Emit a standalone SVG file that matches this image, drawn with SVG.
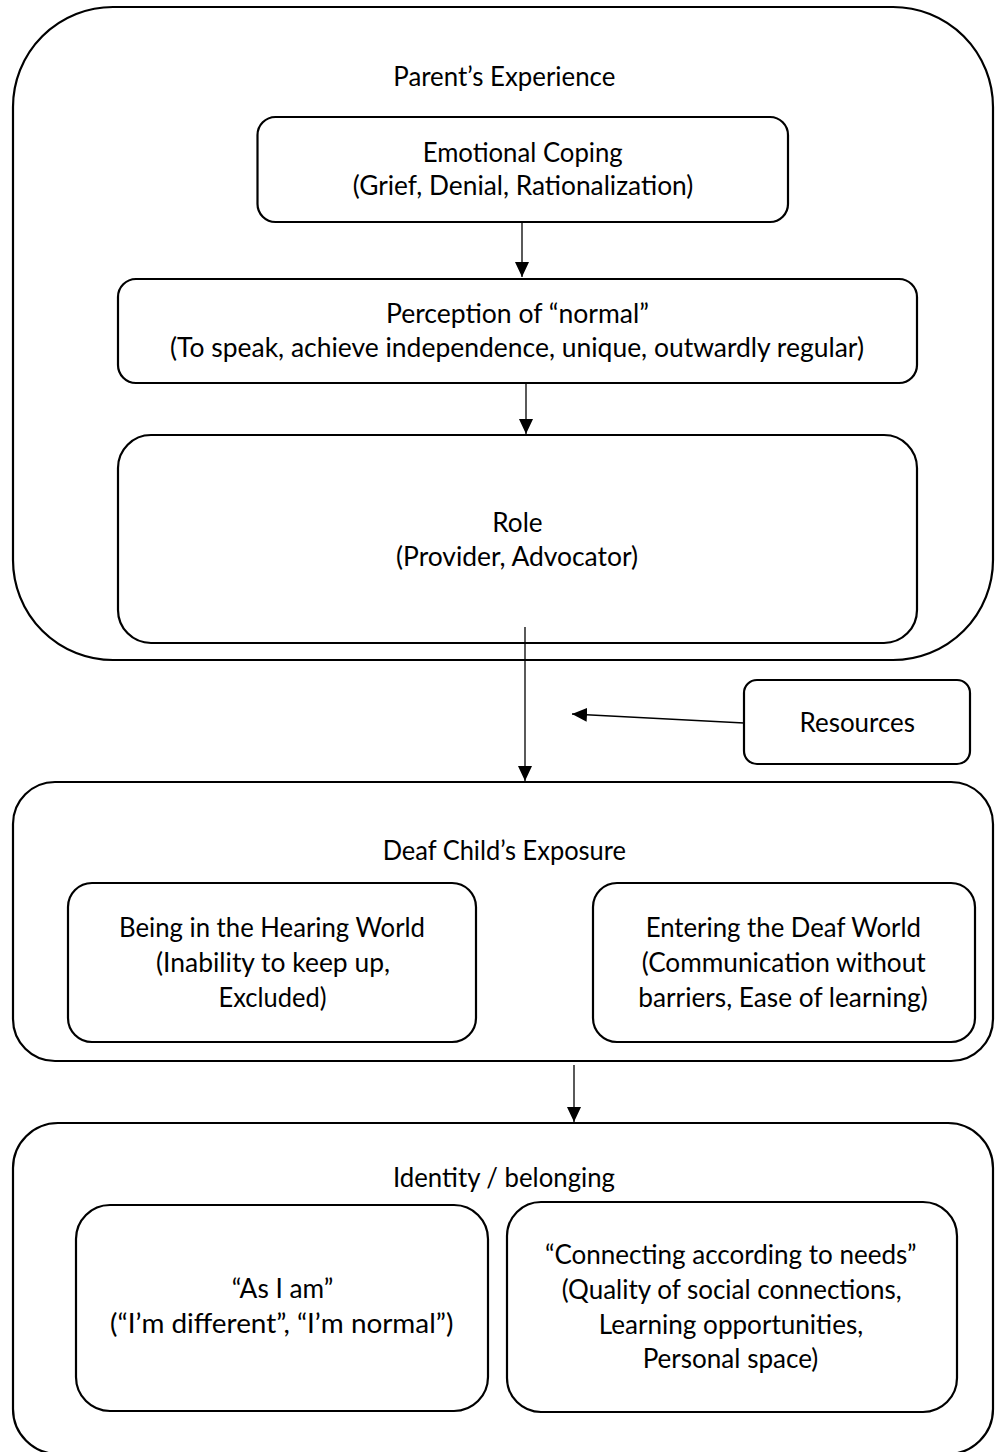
<svg xmlns="http://www.w3.org/2000/svg" width="995" height="1452" viewBox="0 0 995 1452">
<style>
.box{fill:#ffffff;stroke:#000000;stroke-width:2.2}
.t{font-family:Lato,"Liberation Sans",sans-serif;font-size:26px;fill:#000000;text-anchor:middle}
.c{stroke:#000000;stroke-width:1.3;fill:none}
</style>
<defs>
<marker id="ah" markerUnits="userSpaceOnUse" markerWidth="16" markerHeight="14" refX="15" refY="7" orient="auto">
<path d="M0,0 L15,7 L0,14 z" fill="#000000"/>
</marker>
</defs>
<rect width="995" height="1452" fill="#ffffff"/>

<g id="parent-experience">
<rect class="box" x="13" y="7" width="980" height="653" rx="100" ry="100"/>
<text class="t" x="504.3" y="86" textLength="222" lengthAdjust="spacingAndGlyphs">Parent’s Experience</text>
</g>

<g id="emotional-coping">
<rect class="box" x="257.5" y="117" width="530.5" height="105" rx="18" ry="18"/>
<text class="t" x="522.7" y="162" textLength="200" lengthAdjust="spacingAndGlyphs">Emotional Coping</text>
<text class="t" x="523" y="195" textLength="340.6" lengthAdjust="spacingAndGlyphs">(Grief, Denial, Rationalization)</text>
</g>

<g id="perception-normal">
<rect class="box" x="118" y="279" width="799" height="104" rx="18" ry="18"/>
<text class="t" x="517.5" y="323" textLength="263" lengthAdjust="spacingAndGlyphs">Perception of “normal”</text>
<text class="t" x="517" y="357" textLength="694" lengthAdjust="spacingAndGlyphs">(To speak, achieve independence, unique, outwardly regular)</text>
</g>

<g id="role">
<rect class="box" x="118" y="435" width="799" height="208" rx="33" ry="33"/>
<text class="t" x="517.5" y="532" textLength="50.3" lengthAdjust="spacingAndGlyphs">Role</text>
<text class="t" x="517" y="566" textLength="242" lengthAdjust="spacingAndGlyphs">(Provider, Advocator)</text>
</g>

<g id="resources">
<rect class="box" x="744" y="680" width="226" height="84" rx="13" ry="13"/>
<text class="t" x="857.3" y="732" textLength="115.5" lengthAdjust="spacingAndGlyphs">Resources</text>
</g>

<g id="deaf-child-exposure">
<rect class="box" x="13" y="782" width="980" height="279" rx="42" ry="42"/>
<text class="t" x="504.3" y="860" textLength="243.3" lengthAdjust="spacingAndGlyphs">Deaf Child’s Exposure</text>
</g>

<g id="hearing-world">
<rect class="box" x="68" y="883" width="408" height="159" rx="24" ry="24"/>
<text class="t" x="272" y="937" textLength="306" lengthAdjust="spacingAndGlyphs">Being in the Hearing World</text>
<text class="t" x="273" y="972" textLength="234" lengthAdjust="spacingAndGlyphs">(Inability to keep up,</text>
<text class="t" x="272.5" y="1007" textLength="108" lengthAdjust="spacingAndGlyphs">Excluded)</text>
</g>

<g id="deaf-world">
<rect class="box" x="593" y="883" width="382" height="159" rx="24" ry="24"/>
<text class="t" x="783.3" y="937" textLength="275.3" lengthAdjust="spacingAndGlyphs">Entering the Deaf World</text>
<text class="t" x="783.7" y="972" textLength="284" lengthAdjust="spacingAndGlyphs">(Communication without</text>
<text class="t" x="783" y="1007" textLength="289.4" lengthAdjust="spacingAndGlyphs">barriers, Ease of learning)</text>
</g>

<g id="identity-belonging">
<rect class="box" x="13" y="1123" width="980" height="331" rx="45" ry="45"/>
<text class="t" x="504" y="1187" textLength="222" lengthAdjust="spacingAndGlyphs">Identity / belonging</text>
</g>

<g id="as-i-am">
<rect class="box" x="76" y="1205" width="412" height="206" rx="34" ry="34"/>
<text class="t" x="282.5" y="1298" textLength="101.7" lengthAdjust="spacingAndGlyphs">“As I am”</text>
<text class="t" x="281.7" y="1333" textLength="343.3" lengthAdjust="spacingAndGlyphs">(“I’m different”, “I’m normal”)</text>
</g>

<g id="connecting-needs">
<rect class="box" x="507" y="1202" width="450" height="210" rx="34" ry="34"/>
<text class="t" x="730.8" y="1264" textLength="371.7" lengthAdjust="spacingAndGlyphs">“Connecting according to needs”</text>
<text class="t" x="731.7" y="1299" textLength="340" lengthAdjust="spacingAndGlyphs">(Quality of social connections,</text>
<text class="t" x="731" y="1334" textLength="264.3" lengthAdjust="spacingAndGlyphs">Learning opportunities,</text>
<text class="t" x="730.5" y="1368" textLength="175.7" lengthAdjust="spacingAndGlyphs">Personal space)</text>
</g>

<g id="connectors">
<line class="c" x1="522" y1="223" x2="522" y2="277" marker-end="url(#ah)"/>
<line class="c" x1="526" y1="384" x2="526" y2="434" marker-end="url(#ah)"/>
<line class="c" x1="525" y1="627" x2="525" y2="781" marker-end="url(#ah)"/>
<line class="c" x1="744" y1="723" x2="572" y2="714" marker-end="url(#ah)"/>
<line class="c" x1="574" y1="1065" x2="574" y2="1122" marker-end="url(#ah)"/>
</g>
</svg>
